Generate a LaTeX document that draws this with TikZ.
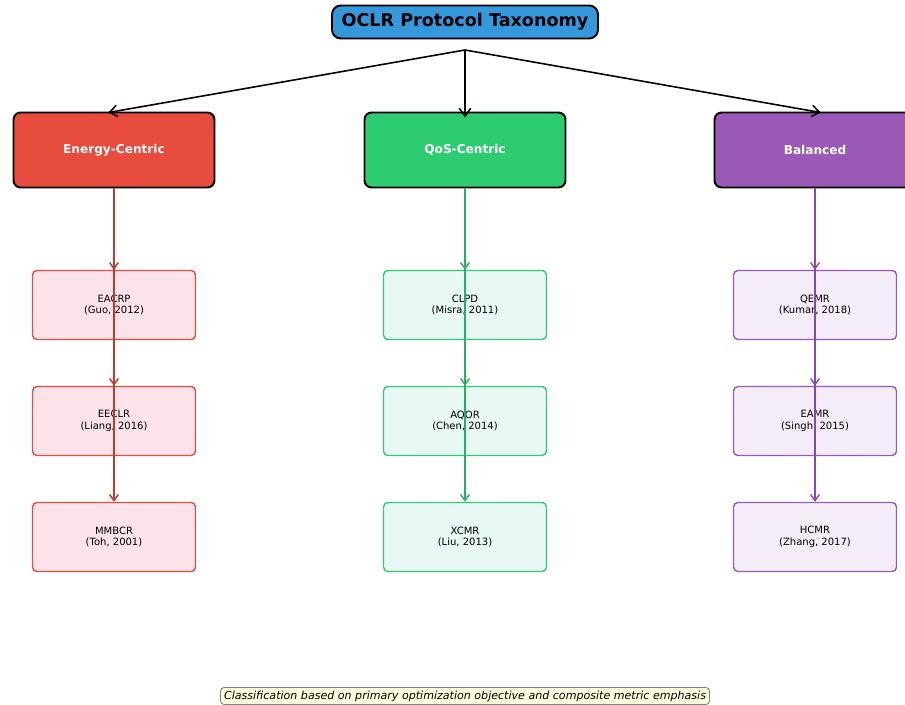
\documentclass[tikz,border=0pt]{standalone}
\usepackage{fontspec}
\setmainfont{DejaVu Sans}
\usetikzlibrary{arrows.meta}

\definecolor{topblue}{HTML}{3498DB}
\definecolor{energyred}{HTML}{E74C3C}
\definecolor{energydark}{HTML}{C0392B}
\definecolor{energylight}{HTML}{FBE3E9}
\definecolor{qosgreen}{HTML}{2ECC71}
\definecolor{qosdark}{HTML}{27AE60}
\definecolor{qoslight}{HTML}{E8F8F5}
\definecolor{balpurple}{HTML}{9B59B6}
\definecolor{baldark}{HTML}{8E44AD}
\definecolor{ballight}{HTML}{F4ECF7}
\definecolor{notefill}{HTML}{FFFFE0}

\tikzset{
    catbox/.style={rectangle, rounded corners=4pt, draw=black, line width=1.1pt,
        minimum width=4.02cm, minimum height=1.5cm, text=white,
        font=\fontsize{6.9}{8}\selectfont\bfseries},
    leafbox/.style={rectangle, rounded corners=2.5pt, line width=0.8pt,
        minimum width=3.26cm, minimum height=1.38cm, align=center,
        font=\fontsize{5.7}{6.6}\selectfont},
    tip/.style={-{Straight Barb[length=4.5pt, width=6.5pt]}},
    smalltip/.style={-{Straight Barb[length=3.5pt, width=5pt]}}
}

\begin{document}
\begin{tikzpicture}[x=0.02cm, y=-0.02cm]
    \useasboundingbox (0,0) rectangle (905,705);

    \node (taxonomy) [rectangle, rounded corners=5pt, fill=topblue, draw=black, line width=1.1pt,
        minimum width=5.32cm, minimum height=0.66cm,
        font=\fontsize{10}{12}\selectfont\bfseries] at (465,22) {OCLR Protocol Taxonomy};
    \coordinate (hub) at (465,50);

    \begin{scope}[every node/.style={catbox}]
        \node (energy) [fill=energyred] at (114,150) {Energy-Centric};
        \node (qos) [fill=qosgreen] at (465,150) {QoS-Centric};
        \node (balanced) [fill=balpurple] at (815,150) {Balanced};
    \end{scope}

    \begin{scope}[every edge/.style={draw, line width=0.9pt, tip, shorten >=-6*0.02cm}]
        \path (hub) edge (energy.north);
        \path (hub) edge (qos.north);
        \path (hub) edge (balanced.north);
    \end{scope}

    \begin{scope}[every node/.style={leafbox, draw=energyred, fill=energylight}]
        \node (eacrp) at (114,305) {EACRP\\(Guo, 2012)};
        \node (eeclr) at (114,421) {EECLR\\(Liang, 2016)};
        \node (mmbcr) at (114,537) {MMBCR\\(Toh, 2001)};
    \end{scope}

    \begin{scope}[every node/.style={leafbox, draw=qosgreen, fill=qoslight}]
        \node (clpd) at (465,305) {CLPD\\(Misra, 2011)};
        \node (aqor) at (465,421) {AQOR\\(Chen, 2014)};
        \node (xcmr) at (465,537) {XCMR\\(Liu, 2013)};
    \end{scope}

    \begin{scope}[every node/.style={leafbox, draw=balpurple, fill=ballight}]
        \node (qemr) at (815,305) {QEMR\\(Kumar, 2018)};
        \node (eamr) at (815,421) {EAMR\\(Singh, 2015)};
        \node (hcmr) at (815,537) {HCMR\\(Zhang, 2017)};
    \end{scope}

    \begin{scope}[every edge/.style={draw, line width=0.8pt, smalltip}]
        \path [energydark] (energy) edge (eacrp.north);
        \path [energydark] (energy) edge (eeclr.north);
        \path [energydark] (energy) edge (mmbcr.north);
        \path [qosdark] (qos) edge (clpd.north);
        \path [qosdark] (qos) edge (aqor.north);
        \path [qosdark] (qos) edge (xcmr.north);
        \path [baldark] (balanced) edge (qemr.north);
        \path [baldark] (balanced) edge (eamr.north);
        \path [baldark] (balanced) edge (hcmr.north);
    \end{scope}

    \node (note) [rectangle, rounded corners=2pt, draw=gray, fill=notefill, line width=0.5pt,
        minimum width=9.78cm, minimum height=0.34cm, inner sep=1pt,
        font=\fontsize{6.3}{7.3}\selectfont\itshape] at (465,696)
        {Classification based on primary optimization objective and composite metric emphasis};
\end{tikzpicture}
\end{document}
